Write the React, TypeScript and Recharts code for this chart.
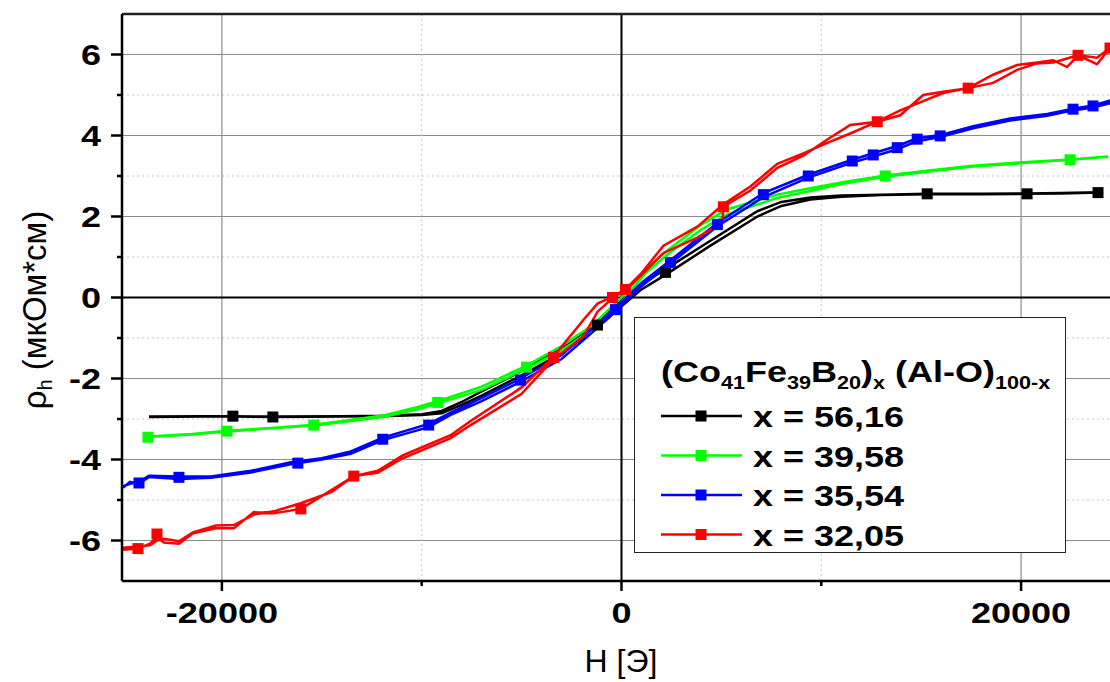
import { ComposedChart, Line, Scatter, XAxis, YAxis, ReferenceLine } from 'recharts';

// H [Oe] / rho_h pairs: "up" sweep then "down" sweep
const blackUp = [[-23650,-2.95],[-21000,-2.94],[-19450,-2.94],[-17450,-2.95],[-14000,-2.94],[-12000,-2.93],[-10000,-2.9],[-9000,-2.86],[-8000,-2.65],[-7000,-2.42],[-5000,-1.92],[-3000,-1.38],[-1200,-0.74],[0,-0.22],[1000,0.2],[2200,0.56],[4450,1.28],[6800,2.0],[8000,2.26],[9450,2.42],[11000,2.49],[13000,2.53],[15300,2.55],[18000,2.55],[20300,2.56],[22000,2.57],[23850,2.59]];
const blackDown = [[23850,2.6],[22000,2.58],[20300,2.57],[18000,2.56],[15300,2.56],[13000,2.54],[11000,2.52],[9450,2.47],[8000,2.36],[6800,2.13],[4450,1.4],[2200,0.7],[1000,0.32],[0,-0.08],[-1200,-0.62],[-3000,-1.25],[-5000,-1.82],[-7000,-2.32],[-8000,-2.58],[-9000,-2.8],[-10000,-2.88],[-12000,-2.92],[-14000,-2.93],[-17450,-2.94],[-19450,-2.93],[-21000,-2.93],[-23650,-2.94]];
const blackMarks = [[-19450,-2.93],[-17450,-2.95],[-1200,-0.68],[2200,0.62],[15300,2.56],[20300,2.56],[23850,2.59]];

const greenUp = [[-23900,-3.45],[-21500,-3.38],[-19750,-3.31],[-17500,-3.23],[-15400,-3.16],[-13500,-3.05],[-11800,-2.94],[-10200,-2.76],[-9200,-2.62],[-7000,-2.28],[-4750,-1.76],[-3000,-1.3],[-1500,-0.82],[0,-0.12],[1200,0.6],[2450,1.12],[4000,1.68],[5300,2.05],[7800,2.46],[9450,2.63],[11000,2.8],[13200,2.98],[15500,3.12],[17450,3.23],[20100,3.32],[22450,3.4],[24300,3.47]];
const greenDown = [[24300,3.48],[22450,3.41],[20100,3.34],[17450,3.25],[15500,3.14],[13200,3.01],[11000,2.84],[9450,2.7],[7800,2.54],[5300,2.18],[4000,1.8],[2450,1.22],[1200,0.7],[0,0.0],[-1500,-0.7],[-3000,-1.2],[-4750,-1.68],[-7000,-2.2],[-9200,-2.56],[-10200,-2.7],[-11800,-2.9],[-13500,-3.02],[-15400,-3.14],[-17500,-3.22],[-19750,-3.29],[-21500,-3.37],[-23900,-3.44]];
const greenMarks = [[-23700,-3.45],[-19750,-3.3],[-15400,-3.15],[-9200,-2.59],[-4750,-1.72],[13200,3.0],[22450,3.4]];

const blueUp = [[-24950,-4.7],[-24600,-4.55],[-24150,-4.6],[-23650,-4.43],[-22150,-4.48],[-20550,-4.45],[-18550,-4.32],[-16550,-4.12],[-15000,-4.0],[-13550,-3.86],[-11950,-3.52],[-9650,-3.2],[-8550,-2.9],[-7000,-2.56],[-5050,-2.08],[-3000,-1.52],[-1500,-0.88],[-300,-0.34],[1000,0.28],[2450,0.84],[4800,1.76],[7100,2.48],[9350,2.96],[11550,3.33],[12600,3.48],[13800,3.66],[14800,3.86],[15950,3.96],[17600,4.18],[19450,4.37],[21300,4.49],[22600,4.62],[23600,4.69],[24450,4.8]];
const blueDown = [[24450,4.86],[23600,4.74],[22600,4.66],[21300,4.53],[19450,4.42],[17600,4.23],[15950,4.01],[14800,3.93],[13800,3.74],[12600,3.56],[11550,3.4],[9350,3.03],[7100,2.58],[4800,1.84],[2450,0.92],[1000,0.36],[-300,-0.26],[-1500,-0.78],[-3000,-1.42],[-5050,-2.0],[-7000,-2.48],[-8550,-2.84],[-9650,-3.12],[-11950,-3.46],[-13550,-3.8],[-15000,-3.97],[-16550,-4.07],[-18550,-4.28],[-20550,-4.42],[-22150,-4.42],[-23650,-4.4],[-24150,-4.55],[-24600,-4.6],[-24950,-4.66]];
const blueMarks = [[-24150,-4.58],[-22150,-4.44],[-16200,-4.09],[-11950,-3.5],[-9650,-3.15],[-5050,-2.04],[-300,-0.3],[2450,0.86],[4800,1.8],[7100,2.54],[9350,3.0],[11550,3.37],[12600,3.52],[13800,3.7],[14800,3.91],[15950,3.99],[22600,4.65],[23600,4.73]];

const redUp = [[-24950,-6.23],[-24200,-6.2],[-23600,-6.08],[-23250,-5.92],[-22900,-6.05],[-22150,-6.08],[-21450,-5.82],[-20300,-5.7],[-19400,-5.7],[-18400,-5.3],[-17400,-5.33],[-16050,-5.22],[-14500,-4.75],[-13400,-4.41],[-12200,-4.33],[-10950,-3.97],[-8550,-3.47],[-7550,-3.15],[-5000,-2.38],[-3400,-1.52],[-1900,-0.96],[-1200,-0.35],[-450,-0.02],[200,0.18],[1000,0.55],[2100,1.1],[3800,1.48],[5050,1.85],[5100,2.24],[6450,2.64],[7800,3.2],[9100,3.5],[10300,3.9],[11450,4.26],[12800,4.34],[13950,4.5],[15100,5.0],[16100,5.08],[17350,5.17],[18600,5.5],[19800,5.74],[20800,5.8],[21600,5.86],[22300,5.69],[22850,5.98],[23800,5.76],[24450,6.16]];
const redDown = [[24450,6.16],[23800,5.92],[22850,5.98],[22300,5.9],[21600,5.8],[20800,5.78],[19800,5.62],[18600,5.3],[17350,5.17],[16100,5.05],[15100,4.85],[13950,4.62],[12800,4.34],[11450,4.05],[10300,3.82],[9100,3.56],[7800,3.3],[6450,2.74],[5100,2.3],[3800,1.75],[2100,1.28],[1000,0.6],[200,0.2],[-450,0.02],[-1200,-0.15],[-1900,-0.55],[-3400,-1.46],[-5000,-2.22],[-7550,-3.05],[-8550,-3.4],[-10950,-3.9],[-12200,-4.28],[-13400,-4.41],[-14500,-4.8],[-16050,-5.08],[-17400,-5.28],[-18400,-5.36],[-19400,-5.62],[-20300,-5.63],[-21450,-5.8],[-22150,-6.02],[-22900,-5.96],[-23250,-6.0],[-23600,-6.12],[-24950,-6.18]];
const redMarks = [[-24200,-6.2],[-23250,-5.84],[-16050,-5.22],[-13400,-4.41],[-3400,-1.48],[-450,0.0],[200,0.2],[5100,2.24],[12800,4.34],[17350,5.17],[22850,5.98],[24450,6.16]];

const seriesNames = ['56,16', '39,58', '35,54', '32,05'];
const seriesColors = ['#000000', '#00ff00', '#0000ff', '#ff0000'];

const H_TICKS = [-20000, -10000, 0, 10000, 20000];
const RHO_TICKS = [-6, -5, -4, -3, -2, -1, 0, 1, 2, 3, 4, 5, 6];

const toPts = (arr: number[][]) => arr.map(([h, rho]) => ({ h, rho }));

const series = [
  { name: seriesNames[0], color: seriesColors[0], loop: toPts([...blackUp, ...blackDown]), marks: toPts(blackMarks) },
  { name: seriesNames[1], color: seriesColors[1], loop: toPts([...greenUp, ...greenDown]), marks: toPts(greenMarks) },
  { name: seriesNames[2], color: seriesColors[2], loop: toPts([...blueUp, ...blueDown]), marks: toPts(blueMarks) },
  { name: seriesNames[3], color: seriesColors[3], loop: toPts([...redUp, ...redDown]), marks: toPts(redMarks) },
];

const FONT = '"Liberation Sans", Arial, sans-serif';

const YTick = (props: any) => {
  const { x, y, payload } = props;
  const major = payload.value % 2 === 0;
  return (
    <g>
      <line x1={x - (major ? 11 : 5)} x2={x} y1={y} y2={y} stroke="#000" strokeWidth={2.5} />
      {major && (
        <g transform={`translate(${x - 21},${y + 10.5}) scale(1.2,1)`}>
          <text textAnchor="end" fontSize={30} fontWeight="bold" fontFamily={FONT} fill="#000">{payload.value}</text>
        </g>
      )}
    </g>
  );
};

const XTick = (props: any) => {
  const { x, y, payload } = props;
  const major = payload.value % 20000 === 0;
  return (
    <g>
      <line x1={x} x2={x} y1={y} y2={y + (major ? 10 : 5)} stroke="#000" strokeWidth={2.5} />
      {major && (
        <g transform={`translate(${x},${y + 42}) scale(1.2,1)`}>
          <text textAnchor="middle" fontSize={30} fontWeight="bold" fontFamily={FONT} fill="#000">{payload.value}</text>
        </g>
      )}
    </g>
  );
};

const Square = (props: any) => {
  const { cx, cy, fill } = props;
  return <rect x={cx - 5.5} y={cy - 5.5} width={11} height={11} fill={fill} />;
};

const Legend = () => (
  <div style={{ position: 'absolute', left: 634, top: 317, width: 430, height: 234, border: '1.5px solid #222', background: '#fff' }}>
    <svg width={430} height={234} style={{ display: 'block' }}>
      <g transform="translate(26,64) scale(1.2,1)" fontFamily={FONT} fontWeight="bold" fill="#000">
        <text fontSize={30}>
          (Co<tspan fontSize={18} dy={7}>41</tspan>
          <tspan dy={-7}>Fe</tspan><tspan fontSize={18} dy={7}>39</tspan>
          <tspan dy={-7}>B</tspan><tspan fontSize={18} dy={7}>20</tspan>
          <tspan dy={-7}>)</tspan><tspan fontSize={18} dy={7}>x</tspan>
          <tspan dy={-7}> (Al-O)</tspan><tspan fontSize={18} dy={7}>100-x</tspan>
        </text>
      </g>
      {series.map((s, i) => {
        const cy = 98 + i * 39.5;
        return (
          <g key={s.name}>
            <line x1={26} x2={107} y1={cy} y2={cy} stroke={s.color} strokeWidth={2.5} />
            <rect x={60.5} y={cy - 5.5} width={11} height={11} fill={s.color} />
            <g transform={`translate(118,${cy + 11}) scale(1.2,1)`}>
              <text fontSize={30} fontWeight="bold" fontFamily={FONT} fill="#000">x = {s.name}</text>
            </g>
          </g>
        );
      })}
    </svg>
  </div>
);

export default function App() {
  return (
    <div style={{ position: 'absolute', left: 0, top: 0, width: 1110, height: 682, background: '#fff', overflow: 'hidden' }}>
      <ComposedChart width={1110} height={682} margin={{ top: 14, right: 0, left: 0, bottom: 41 }}>
        {[-6, -4, -2, 2, 4, 6].map((v) => (
          <ReferenceLine key={'hy' + v} y={v} stroke="#8c8c8c" strokeWidth={1.2} />
        ))}
        {[-5, -3, -1, 1, 3, 5].map((v) => (
          <ReferenceLine key={'my' + v} y={v} stroke="#c8c8c8" strokeWidth={1} strokeDasharray="2 3" />
        ))}
        <ReferenceLine x={-20000} stroke="#8c8c8c" strokeWidth={1.2} />
        <ReferenceLine x={20000} stroke="#8c8c8c" strokeWidth={1.2} />
        <ReferenceLine x={-10000} stroke="#c8c8c8" strokeWidth={1} strokeDasharray="2 3" />
        <ReferenceLine x={10000} stroke="#c8c8c8" strokeWidth={1} strokeDasharray="2 3" />
        <ReferenceLine x={0} stroke="#000" strokeWidth={2} />
        <ReferenceLine y={0} stroke="#000" strokeWidth={2} />
        <ReferenceLine y={7} stroke="#222" strokeWidth={2.5} />
        <XAxis
          type="number"
          dataKey="h"
          domain={[-25000, 24450]}
          ticks={H_TICKS}
          allowDataOverflow
          height={60}
          tickSize={0}
          tickMargin={0}
          tickLine={false}
          axisLine={{ stroke: '#000', strokeWidth: 2.5 }}
          tick={<XTick />}
          interval={0}
        />
        <YAxis
          type="number"
          dataKey="rho"
          domain={[-7, 7]}
          ticks={RHO_TICKS}
          allowDataOverflow
          width={122}
          tickSize={0}
          tickMargin={0}
          tickLine={false}
          axisLine={{ stroke: '#000', strokeWidth: 2.5 }}
          tick={<YTick />}
          interval={0}
        />
        {series.map((s) => (
          <Line
            key={'l' + s.name}
            data={s.loop}
            dataKey="rho"
            type="linear"
            stroke={s.color}
            strokeWidth={2.5}
            dot={false}
            activeDot={false}
            isAnimationActive={false}
          />
        ))}
        {series.map((s) => (
          <Scatter
            key={'m' + s.name}
            data={s.marks}
            dataKey="rho"
            fill={s.color}
            shape={<Square />}
            isAnimationActive={false}
          />
        ))}
      </ComposedChart>
      <svg width={1110} height={682} style={{ position: 'absolute', left: 0, top: 0, pointerEvents: 'none' }}>
        <g transform="translate(46,310) rotate(-90)">
          <text textAnchor="middle" fontSize={33} fontFamily={FONT} fill="#000">
            ρ<tspan fontSize={20} dy={6}>h</tspan><tspan dy={-6}> (мкОм*см)</tspan>
          </text>
        </g>
        <text x={621} y={672} textAnchor="middle" fontSize={32} fontFamily={FONT} fill="#000">H [Э]</text>
      </svg>
      <Legend />
    </div>
  );
}
